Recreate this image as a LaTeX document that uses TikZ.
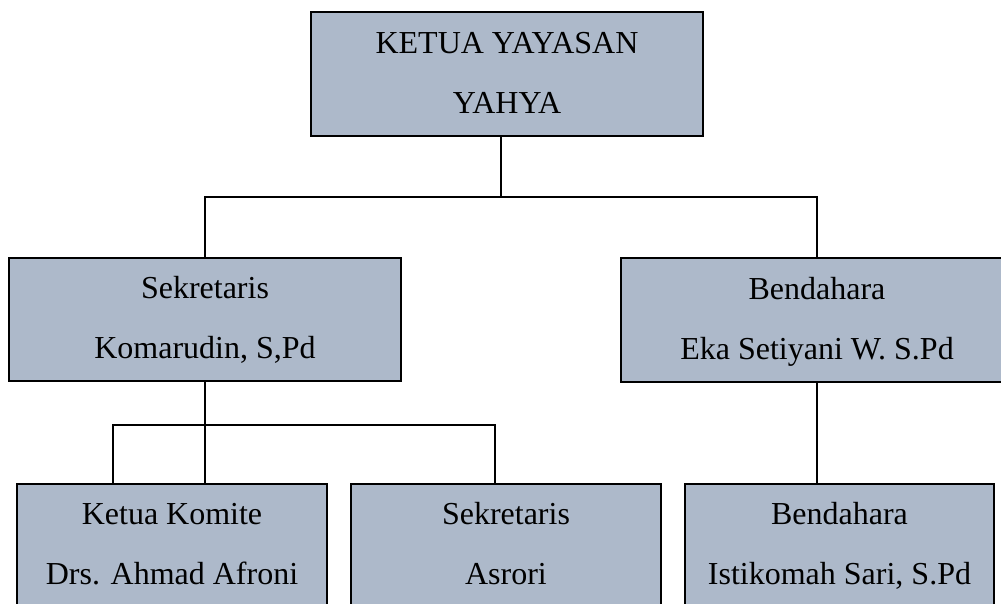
\documentclass[tikz,border=0pt]{standalone}
\usepackage{fontspec}
\setmainfont{Liberation Serif}
\definecolor{isikotak}{RGB}{173,185,202}
\tikzset{
    jabatan/.style={draw=black, line width=1.2pt, fill=isikotak, align=center, inner sep=0pt,
        text height=82pt, text depth=4pt, font=\fontsize{32}{60}\selectfont},
    garis/.style={line width=2.4pt},
    garistipis/.style={line width=1.3pt}
}
\begin{document}
\begin{tikzpicture}[x=1pt,y=-1pt]
    \useasboundingbox (0,0) rectangle (1001,603);
    \clip (0,0) rectangle (1001,603);
    \node[jabatan, minimum width=392pt, minimum height=124pt] (ketua) at (507,74) {KETUA YAYASAN\\YAHYA};
    \node[jabatan, minimum width=392pt, minimum height=123pt] (sek) at (205,319.5) {Sekretaris\\Komarudin, S,Pd};
    \node[jabatan, minimum width=392pt, minimum height=124pt] (bend) at (817,320) {Bendahara\\Eka Setiyani W. S.Pd};
    \node[jabatan, minimum width=310pt, minimum height=123pt] (komite) at (172,545.5) {Ketua Komite\\Drs. Ahmad Afroni};
    \node[jabatan, minimum width=310pt, minimum height=123pt] (sekb) at (506,545.5) {Sekretaris\\Asrori};
    \node[jabatan, minimum width=309pt, minimum height=123pt] (bendb) at (839.5,545.5) {Bendahara\\Istikomah Sari, S.Pd};
    \coordinate (cabang) at (501,197);
    \coordinate (tipiskiri) at (113,425);
    \coordinate (tipiskanan) at (495,425);
    \draw[garis] (cabang |- ketua.south) -- (cabang);
    \draw[garis] (sek.north) |- (cabang) -| (bend.north);
    \draw[garis] (sek.south) -- (sek.south |- komite.north);
    \draw[garistipis] (tipiskiri |- komite.north) -- (tipiskiri) -- (tipiskanan) -- (tipiskanan |- sekb.north);
    \draw[garis] (bend.south) -- (bend.south |- bendb.north);
\end{tikzpicture}
\end{document}
